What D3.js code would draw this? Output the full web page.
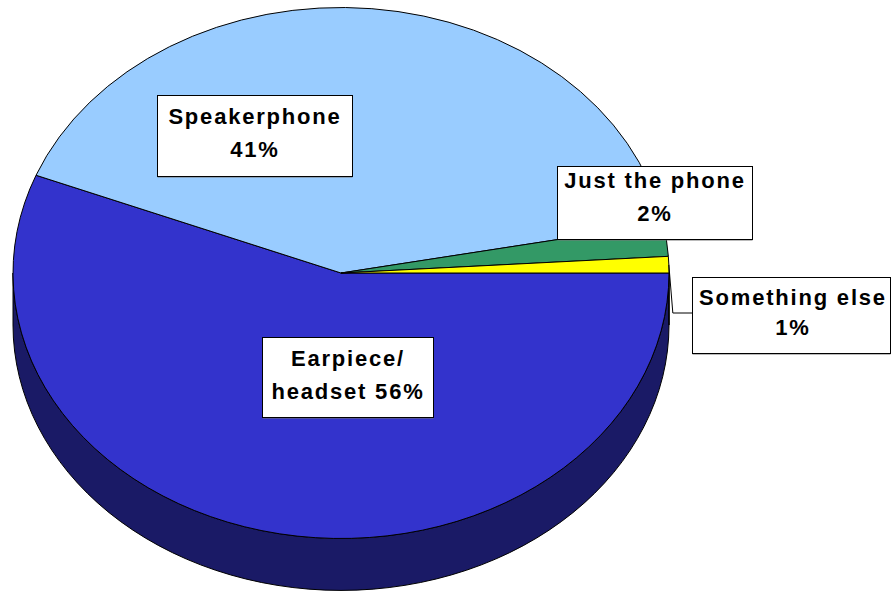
<!DOCTYPE html>
<html>
<head>
<meta charset="utf-8">
<script src="https://cdn.jsdelivr.net/npm/d3@7"></script>
<style>
  html, body { margin: 0; padding: 0; background: #fff; }
  svg { display: block; }
</style>
</head>
<body>
<svg id="chart"></svg>
<script>
// slice order, clockwise from 3 o'clock
const categories = ["Earpiece/ headset", "Speakerphone", "Just the phone", "Something else"];
const values = [56, 41, 2, 1];
const labelFirstLine = ["Earpiece/", "Speakerphone", "Just the phone", "Something else"];
const labelSecondLine = ["headset 56%", "41%", "2%", "1%"];

const width = 891, height = 592;
const cx = 341, cy = 273, rx = 328, ry = 265.5, depth = 52;

const topColor = d3.scaleOrdinal()
    .domain(categories)
    .range(["#3333cc", "#99ccff", "#339966", "#ffff00"]);
const sideColor = d3.scaleOrdinal()
    .domain(categories)
    .range(["#1a1a66", "#4d6680", "#1a4d33", "#808000"]);

// label box placement (layout only)
const boxes = [
    { x: 262, y: 337, w: 171, h: 80, tx: 347, y1: 366, y2: 399 },
    { x: 157, y: 95, w: 195, h: 81, tx: 254, y1: 124, y2: 157 },
    { x: 557, y: 166, w: 195, h: 73, tx: 654, y1: 188, y2: 221 },
    { x: 692, y: 277, w: 198, h: 76, tx: 792, y1: 305, y2: 335 },
];

const svg = d3.select("#chart")
    .attr("width", width)
    .attr("height", height)
    .attr("viewBox", [0, 0, width, height]);

const pie = d3.pie()
    .sort(null)
    .value((d, i) => values[i])
    .startAngle(Math.PI / 2)
    .endAngle(Math.PI / 2 + 2 * Math.PI);

const arcs = pie(categories);

// d3 angle: 0 at 12 o'clock, clockwise
const pt = (a, dy = 0) => [cx + rx * Math.sin(a), cy - ry * Math.cos(a) + dy];

function topPath(d) {
    const p0 = pt(d.startAngle), p1 = pt(d.endAngle);
    const large = d.endAngle - d.startAngle > Math.PI ? 1 : 0;
    return `M${cx},${cy}L${p0}A${rx},${ry} 0 ${large} 1 ${p1}Z`;
}

// front wall: visible where angle (mod 2pi) is in [pi/2, 3pi/2]
function sidePath(d) {
    const tau = 2 * Math.PI;
    let parts = [];
    for (let k = -1; k <= 1; k++) {
        const lo = Math.PI / 2 + k * tau, hi = 3 * Math.PI / 2 + k * tau;
        const b0 = Math.max(d.startAngle, lo), b1 = Math.min(d.endAngle, hi);
        if (b1 > b0) {
            const p0 = pt(b0), p1 = pt(b1), q1 = pt(b1, depth), q0 = pt(b0, depth);
            parts.push(`M${p0}A${rx},${ry} 0 0 1 ${p1}L${q1}A${rx},${ry} 0 0 0 ${q0}Z`);
        }
    }
    return parts.join("");
}

svg.append("g")
    .selectAll("path")
    .data(arcs)
    .join("path")
    .attr("d", sidePath)
    .attr("fill", d => sideColor(d.data))
    .attr("stroke", "#000")
    .attr("stroke-width", 1)
    .attr("stroke-linejoin", "round");

svg.append("g")
    .selectAll("path")
    .data(arcs)
    .join("path")
    .attr("d", topPath)
    .attr("fill", d => topColor(d.data))
    .attr("stroke", "#000")
    .attr("stroke-width", 1)
    .attr("stroke-linejoin", "round");

// leader line for the smallest slice
const last = arcs[3];
const lp = pt((last.startAngle + last.endAngle) / 2);
const b3 = boxes[3];
svg.append("path")
    .attr("d", `M${lp}L${lp[0] + 4},${b3.y + 36}L${b3.x},${b3.y + 36}`)
    .attr("fill", "none")
    .attr("stroke", "#000")
    .attr("stroke-width", 1);

const lab = svg.append("g")
    .selectAll("g")
    .data(arcs)
    .join("g");

lab.append("rect")
    .attr("x", (d, i) => boxes[i].x + 0.5)
    .attr("y", (d, i) => boxes[i].y + 1.5)
    .attr("width", (d, i) => boxes[i].w)
    .attr("height", (d, i) => boxes[i].h)
    .attr("fill", "#777");

lab.append("rect")
    .attr("x", (d, i) => boxes[i].x + 0.5)
    .attr("y", (d, i) => boxes[i].y + 0.5)
    .attr("width", (d, i) => boxes[i].w)
    .attr("height", (d, i) => boxes[i].h)
    .attr("fill", "#fff")
    .attr("stroke", "#000")
    .attr("stroke-width", 1);

const txt = lab.append("text")
    .attr("text-anchor", "middle")
    .style("font-family", "'Liberation Sans', Arial, sans-serif")
    .style("font-weight", "bold")
    .style("font-size", "22px")
    .style("letter-spacing", "1.8px")
    .attr("fill", "#000");

txt.append("tspan")
    .attr("x", (d, i) => boxes[i].tx + 1)
    .attr("y", (d, i) => boxes[i].y1)
    .text((d, i) => labelFirstLine[i]);

txt.append("tspan")
    .attr("x", (d, i) => boxes[i].tx + 1)
    .attr("y", (d, i) => boxes[i].y2)
    .text((d, i) => labelSecondLine[i]);
</script>
</body>
</html>
